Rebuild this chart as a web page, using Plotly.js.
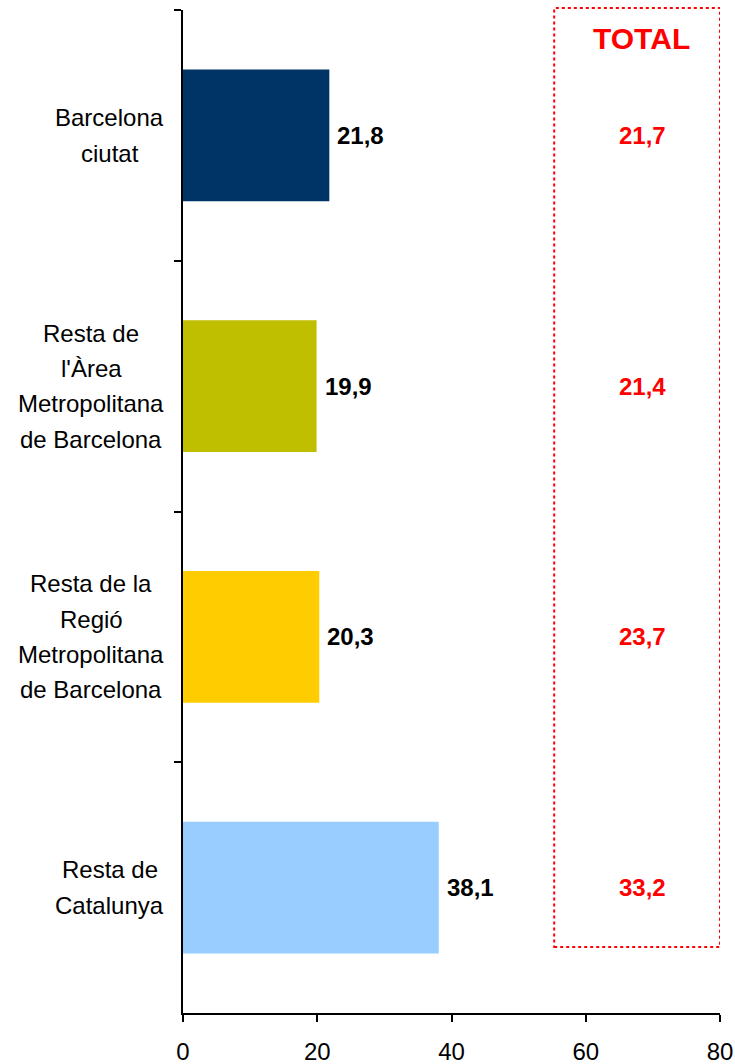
<!DOCTYPE html>
<html>
<head>
<meta charset="utf-8">
<script src="https://cdn.plot.ly/plotly-3.0.1.min.js"></script>
<style>html,body{margin:0;padding:0;background:#fff;}#chart{width:735px;height:1064px;}</style>
</head>
<body>
<div id="chart"></div>
<script>
// ---- data ----
const categories = [
  "Barcelona<br>ciutat",
  "Resta de<br>l'Àrea<br>Metropolitana<br>de Barcelona",
  "Resta de la<br>Regió<br>Metropolitana<br>de Barcelona",
  "Resta de<br>Catalunya"
];
const values = [21.8, 19.9, 20.3, 38.1];
const totals = [21.7, 21.4, 23.7, 33.2];
const barColors = ["#003366", "#BFBF00", "#FFCC00", "#99CCFF"];
const totalLabel = "TOTAL";
const xTicks = [0, 20, 40, 60, 80];

// ---- layout helpers ----
const FONT = '"Liberation Sans", Arial, sans-serif';
const W = 735, H = 1064;
const margin = {l: 183, r: 15, t: 10, b: 51};
const ctx = document.createElement('canvas').getContext('2d');
ctx.font = '24px "Liberation Sans", Arial, sans-serif';
const fmt = v => v.toFixed(1).replace('.', ',');

const annotations = [];
// category labels, centred block, right edge ~19px left of axis
categories.forEach((cat, ci) => {
  const lines = cat.split('<br>');
  const maxW = Math.max(...lines.map(l => ctx.measureText(l).width));
  const centerShift = -19 - maxW / 2;
  const n = lines.length;
  lines.forEach((ln, i) => {
    annotations.push({
      xref: 'paper', yref: 'y', x: 0, y: cat,
      xanchor: 'center', yanchor: 'middle',
      xshift: centerShift, yshift: -(i - (n - 1) / 2) * 35.3,
      text: ln, showarrow: false,
      font: {family: FONT, size: 24, color: '#000'}
    });
  });
});
// bar value labels
values.forEach((v, i) => {
  annotations.push({
    xref: 'x', yref: 'y', x: v, y: categories[i],
    xanchor: 'left', yanchor: 'middle', xshift: 6, showarrow: false,
    text: fmt(v),
    font: {family: FONT, size: 24, color: '#000', weight: 'bold'}
  });
});
// totals
totals.forEach((t, i) => {
  annotations.push({
    xref: 'x', yref: 'y', x: 68.5, y: categories[i],
    xanchor: 'center', yanchor: 'middle', showarrow: false,
    text: fmt(t),
    font: {family: FONT, size: 24, color: '#FF0000', weight: 'bold'}
  });
});
annotations.push({
  xref: 'x', yref: 'paper', x: 68.3, y: 0.972,
  xanchor: 'center', yanchor: 'middle', showarrow: false,
  text: totalLabel,
  font: {family: FONT, size: 30, color: '#FF0000', weight: 'bold'}
});

const trace = {
  type: 'bar', orientation: 'h',
  y: categories, x: values,
  marker: {color: barColors, line: {width: 0}},
  width: 0.526,
  hoverinfo: 'skip'
};

const layout = {
  width: W, height: H, margin: margin,
  paper_bgcolor: '#fff', plot_bgcolor: '#fff',
  separators: ',.',
  showlegend: false,
  font: {family: FONT, size: 24, color: '#000'},
  xaxis: {
    range: [0, 80], tickvals: xTicks, ticktext: xTicks.map(String),
    showgrid: false, zeroline: false,
    showline: true, linecolor: '#000', linewidth: 2,
    ticks: 'outside', ticklen: 7, tickwidth: 2, tickcolor: '#000',
    ticklabelstandoff: 9,
    tickfont: {family: FONT, size: 24, color: '#000'}
  },
  yaxis: {
    type: 'category', categoryorder: 'array', categoryarray: categories,
    range: [3.5, -0.5], tickson: 'boundaries',
    showgrid: false, zeroline: false, showticklabels: false,
    showline: true, linecolor: '#000', linewidth: 2,
    ticks: 'outside', ticklen: 7, tickwidth: 2, tickcolor: '#000'
  },
  shapes: [{
    type: 'rect', xref: 'x', yref: 'paper',
    x0: 55.3, x1: 80, y0: 0.0658, y1: 1.002,
    line: {color: '#FF0000', width: 2, dash: 'dot'},
    fillcolor: 'rgba(0,0,0,0)'
  }],
  annotations: annotations
};

Plotly.newPlot('chart', [trace], layout, {staticPlot: true, displayModeBar: false});
</script>
</body>
</html>
